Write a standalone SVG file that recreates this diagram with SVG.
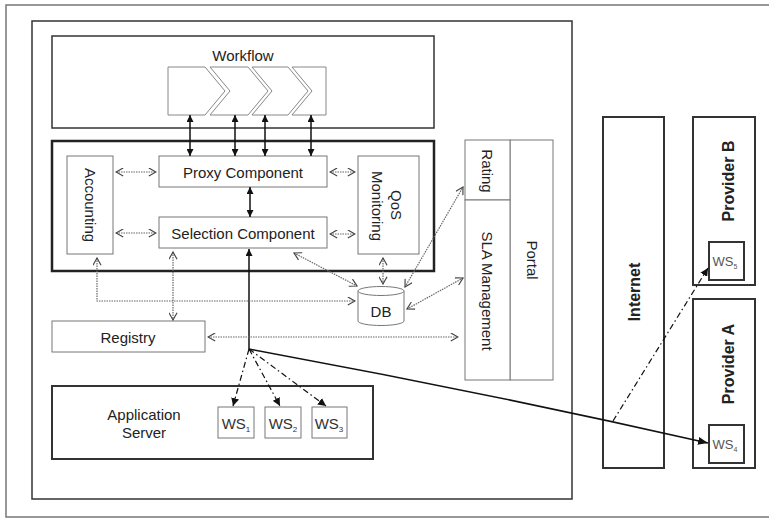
<svg xmlns="http://www.w3.org/2000/svg" width="769" height="518" viewBox="0 0 769 518">
  <style>
    .frame { fill: none; stroke: #777; stroke-width: 1.5; }
    .box { fill: #fff; stroke: #333; stroke-width: 1.5; }
    .thick { fill: #fff; stroke: #222; stroke-width: 2.5; }
    .mid { fill: #fff; stroke: #333; stroke-width: 2; }
    .thin { fill: #fff; stroke: #777; stroke-width: 1; }
    .chev { fill: #fff; stroke: #888; stroke-width: 1; }
    .lbl { font-family: "Liberation Sans", Arial, sans-serif; font-size: 15px; fill: #222; text-anchor: middle; dominant-baseline: central; }
    .bold { font-weight: bold; font-size: 16px; }
    .ws { font-family: "Liberation Sans", Arial, sans-serif; font-size: 15px; fill: #333; text-anchor: middle; }
    .ws-small { font-size: 13px; fill: #555; }
    .solid { fill: none; stroke: #111; stroke-width: 1.5; }
    .dotted { fill: none; stroke: #666; stroke-width: 1.2; stroke-dasharray: 1.5 1; }
    .dashdot { fill: none; stroke: #111; stroke-width: 1.2; stroke-dasharray: 6 3 1.5 3; }
  </style>
  <defs>
    <marker id="arrowSolid" viewBox="0 0 10 10" refX="10" refY="5" markerWidth="7" markerHeight="7" markerUnits="userSpaceOnUse" orient="auto-start-reverse">
      <path d="M0,0 L10,5 L0,10 z" fill="#111"/>
    </marker>
    <marker id="arrowBig" viewBox="0 0 10 10" refX="10" refY="5" markerWidth="10" markerHeight="10" markerUnits="userSpaceOnUse" orient="auto">
      <path d="M0,1 L10,5 L0,9 z" fill="#111"/>
    </marker>
    <marker id="arrowOpen" viewBox="0 0 10 10" refX="9" refY="5" markerWidth="9" markerHeight="9" markerUnits="userSpaceOnUse" orient="auto-start-reverse">
      <path d="M1,0.5 L9,5 L1,9.5" fill="none" stroke="#444" stroke-width="1.3"/>
    </marker>
    <marker id="arrowDD" viewBox="0 0 10 10" refX="10" refY="5" markerWidth="8" markerHeight="8" markerUnits="userSpaceOnUse" orient="auto">
      <path d="M0,0 L10,5 L0,10 z" fill="#111"/>
    </marker>
  </defs>

  <!-- page frame -->
  <rect class="frame" x="6" y="5" width="790" height="512"/>

  <!-- platform container -->
  <g id="platform">
    <rect class="box" x="32" y="21" width="540" height="478"/>
  </g>

  <g id="workflow">
    <rect class="box" x="52" y="36" width="382" height="92"/>
    <text class="lbl" x="243" y="55">Workflow</text>
    <polygon class="chev" points="168,67 205,67 225,91 205,115 168,115"/>
    <polygon class="chev" points="210,67 248,67 268,91 248,115 210,115 230,91"/>
    <polygon class="chev" points="252,67 288,67 308,91 288,115 252,115 272,91"/>
    <polygon class="chev" points="292,67 326,67 326,115 292,115 312,91"/>
  </g>

  <g id="core">
    <rect class="thick" x="52" y="141" width="382" height="130"/>
  </g>

  <g id="accounting">
    <rect class="thin" x="67" y="156" width="46" height="98"/>
    <text class="lbl" transform="translate(90,205) rotate(90)">Accounting</text>
  </g>

  <g id="proxy">
    <rect class="thin" x="159" y="156" width="168" height="31"/>
    <text class="lbl" x="243" y="172">Proxy Component</text>
  </g>

  <g id="selection">
    <rect class="thin" x="159" y="217" width="168" height="31"/>
    <text class="lbl" x="243" y="233">Selection Component</text>
  </g>

  <g id="qos">
    <rect class="thin" x="358" y="156" width="61" height="98"/>
    <text class="lbl" transform="translate(377,206) rotate(90)">Monitoring</text>
    <text class="lbl" transform="translate(396,205) rotate(90)">QoS</text>
  </g>

  <g id="portal">
    <rect class="thin" x="510" y="140" width="43" height="240"/>
    <text class="lbl" transform="translate(532,260) rotate(90)">Portal</text>
  </g>

  <g id="rating">
    <rect class="thin" x="465" y="140" width="45" height="60"/>
    <text class="lbl" transform="translate(487,171) rotate(90)">Rating</text>
  </g>

  <g id="sla">
    <rect class="thin" x="465" y="200" width="45" height="180"/>
    <text class="lbl" transform="translate(487,291) rotate(90)">SLA Management</text>
  </g>

  <g id="db">
    <path class="thin" d="M358,291 a23,4.5 0 0 1 46,0 v30 a23,4.5 0 0 1 -46,0 z"/>
    <path class="thin" d="M358,291 a23,4.5 0 0 0 46,0" fill="none"/>
    <text class="lbl" x="381" y="311">DB</text>
  </g>

  <g id="registry">
    <rect class="thin" x="52" y="321" width="153" height="31"/>
    <text class="lbl" x="128" y="337">Registry</text>
  </g>

  <g id="appserver">
    <rect class="mid" x="52" y="386" width="321" height="73"/>
    <text class="lbl" x="144" y="414">Application</text>
    <text class="lbl" x="144" y="432">Server</text>
  </g>

  <g id="ws1">
    <rect class="thin" x="218" y="407" width="36" height="31"/>
    <text class="ws" x="236" y="429">WS<tspan font-size="8" dy="3">1</tspan></text>
  </g>
  <g id="ws2">
    <rect class="thin" x="265" y="407" width="36" height="31"/>
    <text class="ws" x="283" y="429">WS<tspan font-size="8" dy="3">2</tspan></text>
  </g>
  <g id="ws3">
    <rect class="thin" x="312" y="407" width="35" height="31"/>
    <text class="ws" x="329" y="429">WS<tspan font-size="8" dy="3">3</tspan></text>
  </g>

  <g id="internet">
    <rect class="mid" x="603" y="117" width="61" height="351"/>
    <text class="lbl bold" transform="translate(634,292) rotate(-90)">Internet</text>
  </g>

  <g id="providerB">
    <rect class="mid" x="693" y="117" width="62" height="168"/>
    <text class="lbl bold" transform="translate(728,181) rotate(-90)">Provider B</text>
  </g>
  <g id="ws5">
    <rect class="mid" x="709" y="242" width="35" height="38"/>
    <text class="ws ws-small" x="725" y="266">WS<tspan font-size="7" dy="3">5</tspan></text>
  </g>

  <g id="providerA">
    <rect class="mid" x="693" y="299" width="62" height="169"/>
    <text class="lbl bold" transform="translate(728,364) rotate(-90)">Provider A</text>
  </g>
  <g id="ws4">
    <rect class="mid" x="709" y="425" width="35" height="38"/>
    <text class="ws ws-small" x="725" y="449">WS<tspan font-size="7" dy="3">4</tspan></text>
  </g>

  <g id="connectors">
    <!-- workflow steps to proxy -->
    <line class="solid" x1="190" y1="115" x2="190" y2="156" marker-start="url(#arrowSolid)" marker-end="url(#arrowSolid)"/>
    <line class="solid" x1="235" y1="115" x2="235" y2="156" marker-start="url(#arrowSolid)" marker-end="url(#arrowSolid)"/>
    <line class="solid" x1="265" y1="115" x2="265" y2="156" marker-start="url(#arrowSolid)" marker-end="url(#arrowSolid)"/>
    <line class="solid" x1="311" y1="115" x2="311" y2="156" marker-start="url(#arrowSolid)" marker-end="url(#arrowSolid)"/>
    <!-- proxy to selection -->
    <line class="solid" x1="250" y1="187" x2="250" y2="217" marker-start="url(#arrowSolid)" marker-end="url(#arrowSolid)"/>
    <!-- invocation hub -->
    <line class="solid" x1="249" y1="349" x2="249" y2="249" marker-end="url(#arrowSolid)"/>
    <path class="solid" d="M249,349 Q478,391 708,443" marker-end="url(#arrowBig)"/>
    <path class="dashdot" d="M249,349 L233,406" marker-end="url(#arrowDD)"/>
    <path class="dashdot" d="M249,349 L280,406" marker-end="url(#arrowDD)"/>
    <path class="dashdot" d="M249,349 L326,406" marker-end="url(#arrowDD)"/>
    <path class="dashdot" d="M613,421 L708,268" marker-end="url(#arrowDD)"/>

    <!-- dotted service links -->
    <line class="dotted" x1="116" y1="172" x2="156" y2="172" marker-start="url(#arrowOpen)" marker-end="url(#arrowOpen)"/>
    <line class="dotted" x1="116" y1="233" x2="156" y2="233" marker-start="url(#arrowOpen)" marker-end="url(#arrowOpen)"/>
    <line class="dotted" x1="330" y1="172" x2="355" y2="172" marker-start="url(#arrowOpen)" marker-end="url(#arrowOpen)"/>
    <line class="dotted" x1="330" y1="234" x2="355" y2="234" marker-start="url(#arrowOpen)" marker-end="url(#arrowOpen)"/>
    <path class="dotted" d="M97,258 V301 H355" marker-start="url(#arrowOpen)" marker-end="url(#arrowOpen)"/>
    <line class="dotted" x1="173" y1="252" x2="173" y2="320" marker-start="url(#arrowOpen)" marker-end="url(#arrowOpen)"/>
    <line class="dotted" x1="294" y1="253" x2="357" y2="286" marker-start="url(#arrowOpen)" marker-end="url(#arrowOpen)"/>
    <line class="dotted" x1="383" y1="258" x2="383" y2="284" marker-start="url(#arrowOpen)" marker-end="url(#arrowOpen)"/>
    <line class="dotted" x1="405" y1="287" x2="463" y2="187" marker-start="url(#arrowOpen)" marker-end="url(#arrowOpen)"/>
    <line class="dotted" x1="407" y1="309" x2="463" y2="278" marker-start="url(#arrowOpen)" marker-end="url(#arrowOpen)"/>
    <line class="dotted" x1="208" y1="337" x2="458" y2="337" marker-start="url(#arrowOpen)" marker-end="url(#arrowOpen)"/>
  </g>
</svg>
